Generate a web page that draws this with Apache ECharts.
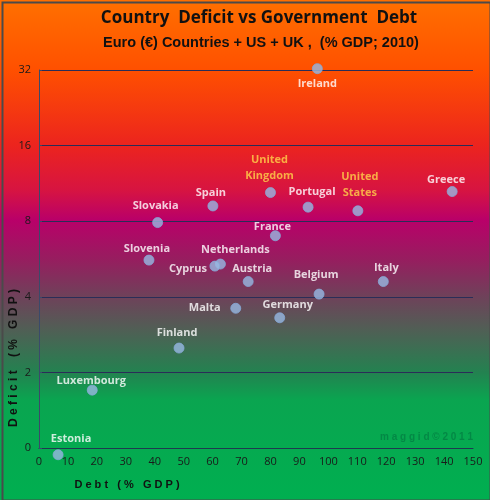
<!DOCTYPE html>
<html>
<head>
<meta charset="utf-8">
<script src="https://cdn.jsdelivr.net/npm/echarts@6/dist/echarts.min.js"></script>
<style>
html,body{margin:0;padding:0;}
#chart{width:490px;height:500px;}
</style>
</head>
<body>
<div id="chart"></div>
<script>
// 国家名称
var countries = ['Ireland','Greece','United\nStates','Portugal','United\nKingdom','Spain','Slovakia','France',
    'Slovenia','Netherlands','Cyprus','Austria','Belgium','Italy','Germany','Malta','Finland','Luxembourg','Estonia'];
// 债务 (% GDP)
var debt = [96.2,142.8,110.2,93.0,80.0,60.1,41.0,81.7,38.0,62.7,60.8,72.3,96.8,119.0,83.2,68.0,48.4,18.4,6.6];
// 赤字 (% GDP)
var deficit = [32.4,10.5,8.8,9.1,10.4,9.2,7.9,7.0,5.6,5.4,5.3,4.6,4.1,4.6,3.3,3.6,2.5,1.7,0.94];
// 标签偏移
var labelOffset = [[0,15],[-6,-12],[2,-26],[4,-15],[-1,-25],[-2,-13],[-2,-17],[-3,-9],
    [-2,-11],[15,-14],[-27,3],[4,-13],[-3,-19],[3,-14],[8,-13],[-31,0],[-2,-15],[-1,-9],[13,-16]];
var yTicks = [1,2,4,8,16,32];
var yTickLabels = ['0','2','4','8','16','32'];

var data = [];
for (var i = 0; i < countries.length; i++) {
    var yellow = countries[i].indexOf('United') == 0;
    data.push({
        name: countries[i],
        value: [debt[i], deficit[i]],
        label: {
            offset: labelOffset[i],
            color: yellow ? '#ffd24a' : '#ffffff'
        }
    });
}

var myChart = echarts.init(document.getElementById('chart'));
var option = {
    backgroundColor: {
        type: 'linear', x: 0, y: 0, x2: 0, y2: 1,
        colorStops: [
            {offset: 0, color: 'rgb(255,112,0)'},
            {offset: 0.14, color: 'rgb(255,80,0)'},
            {offset: 0.29, color: 'rgb(236,36,30)'},
            {offset: 0.38, color: 'rgb(215,20,65)'},
            {offset: 0.44, color: 'rgb(185,0,105)'},
            {offset: 0.52, color: 'rgb(150,30,95)'},
            {offset: 0.59, color: 'rgb(112,64,90)'},
            {offset: 0.66, color: 'rgb(80,95,85)'},
            {offset: 0.745, color: 'rgb(35,130,80)'},
            {offset: 0.80, color: 'rgb(10,165,80)'},
            {offset: 1, color: 'rgb(0,175,80)'}
        ]
    },
    title: [{
        text: 'Country  Deficit vs Government  Debt',
        left: 254, top: 5, textAlign: 'center',
        textStyle: {fontFamily: 'Open Sans', fontSize: 17, fontWeight: 'bold', color: '#111'}
    }, {
        text: 'Euro (€) Countries + US + UK ,  (% GDP; 2010)',
        left: 256, top: 30, textAlign: 'center',
        textStyle: {fontFamily: 'Liberation Sans', fontSize: 14.5, fontWeight: 'bold', color: '#111'}
    }],
    grid: {left: 39, right: 17, top: 70, bottom: 52, outerBoundsMode: 'none', containLabel: false},
    xAxis: {
        type: 'value', min: 0, max: 150, interval: 10,
        axisLine: {show: true, onZero: false, lineStyle: {color: '#1e3a50', width: 1}},
        axisTick: {show: false},
        splitLine: {show: false},
        axisLabel: {fontFamily: 'Open Sans', fontSize: 11, color: '#1a1a1a', margin: 8}
    },
    yAxis: {
        type: 'log', logBase: 2, min: 1, max: 32,
        axisLine: {show: true, lineStyle: {color: '#3a4a6a', width: 1}},
        axisTick: {show: true, length: 3, inside: true, lineStyle: {color: '#3a4a6a'}},
        splitLine: {show: true, lineStyle: {color: '#2a2d58', width: 1}},
        axisLabel: {
            fontFamily: 'Open Sans', fontSize: 11, color: '#1a1a1a', margin: 8,
            formatter: function (v) {
                var k = yTicks.indexOf(Math.round(v));
                return k >= 0 ? yTickLabels[k] : '';
            }
        }
    },
    graphic: [{
        type: 'text',
        right: 17, top: 432,
        style: {text: 'm a g g i d © 2 0 1 1', fontFamily: 'Liberation Sans', fontSize: 10,
            fontWeight: 'bold', fill: 'rgba(0,110,60,0.55)'}
    }, {
        type: 'text',
        x: 127, y: 485, silent: true,
        style: {text: 'D e b t   ( %   G D P )', fontFamily: 'Liberation Sans', fontSize: 11,
            fontWeight: 'bold', fill: '#111', align: 'center', verticalAlign: 'middle'}
    }, {
        type: 'text',
        x: 14, y: 358, rotation: Math.PI / 2, silent: true,
        style: {text: 'D e f i c i t    ( %   G D P )', fontFamily: 'Liberation Sans', fontSize: 12,
            fontWeight: 'bold', fill: '#111', align: 'center', verticalAlign: 'middle'}
    }, {
        type: 'rect', left: 0, top: 0, silent: true,
        shape: {x: 1, y: 1, width: 488, height: 498},
        style: {fill: 'none', stroke: '#4a4a4a', lineWidth: 2}
    }],
    series: [{
        type: 'scatter',
        clip: false,
        symbol: 'circle',
        symbolSize: 10,
        itemStyle: {color: '#98b9e2', borderColor: '#86a8d6', borderWidth: 1},
        label: {
            show: true,
            position: 'inside',
            formatter: '{b}',
            fontFamily: 'Open Sans',
            fontSize: 11,
            fontWeight: 'bold',
            lineHeight: 16,
            align: 'center',
            verticalAlign: 'middle'
        },
        data: data
    }]
};
myChart.setOption(option);
</script>
</body>
</html>
